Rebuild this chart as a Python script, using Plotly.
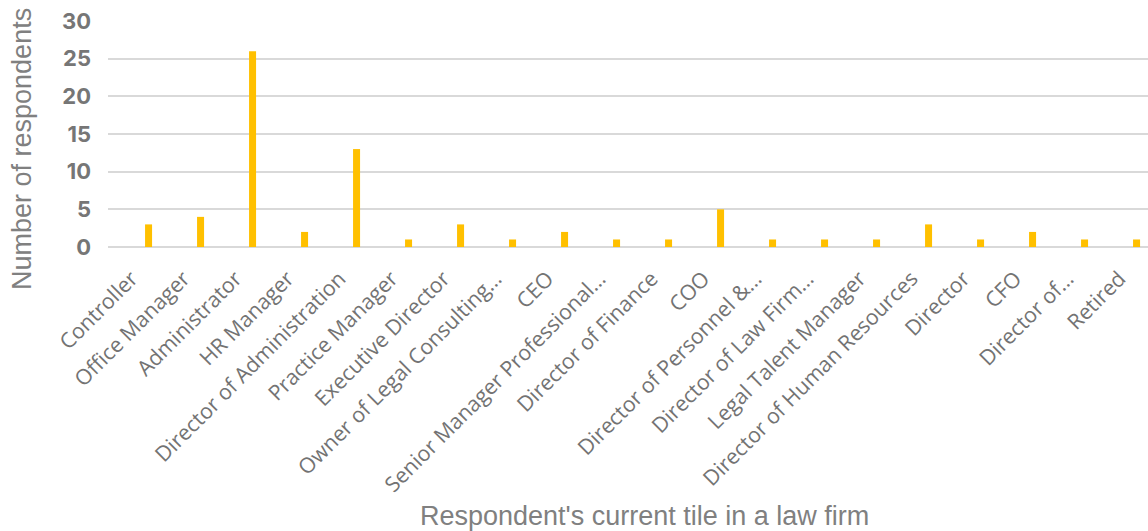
import plotly.graph_objects as go

# Survey responses: current job title of respondents working in law firms
titles = [
    "Controller", "Office Manager", "Administrator", "HR Manager",
    "Director of Administration", "Practice Manager", "Executive Director",
    "Owner of Legal Consulting…", "CEO", "Senior Manager Professional…",
    "Director of Finance", "COO", "Director of Personnel &…",
    "Director of Law Firm…", "Legal Talent Manager",
    "Director of Human Resources", "Director", "CFO", "Director of…", "Retired",
]
respondents = [3, 4, 26, 2, 13, 1, 3, 1, 2, 1, 1, 5, 1, 1, 1, 3, 1, 2, 1, 1]
y_ticks = [0, 5, 10, 15, 20, 25, 30]

W, H = 1148, 531
left, right, top, bottom = 108, 0, 21, 284

fig = go.Figure(
    go.Bar(
        x=titles,
        y=respondents,
        width=0.135,
        marker=dict(color="#FFC000", line=dict(width=0)),
        hoverinfo="x+y",
    )
)

plot_w = W - left - right
plot_h = H - top - bottom


def px_to_paper_x(px):
    return (px - left) / plot_w


def px_to_paper_y(py):
    return (H - bottom - py) / plot_h


fig.update_layout(
    width=W,
    height=H,
    margin=dict(l=left, r=right, t=top, b=bottom, pad=0),
    plot_bgcolor="white",
    paper_bgcolor="white",
    showlegend=False,
    xaxis=dict(
        type="category",
        range=[-0.78, 19.22],
        tickangle=-45,
        tickfont=dict(family="Open Sans", size=21.3, color="#737373"),
        showgrid=False,
        showline=False,
        zeroline=False,
        ticks="",
        ticklabelstandoff=14,
        ticklabelshift=-17,
    ),
    yaxis=dict(
        range=[0, 30],
        tickvals=y_ticks,
        tickfont=dict(family="Inter", size=22, color="#767676", weight="bold"),
        showgrid=True,
        gridcolor="#D9D9D9",
        gridwidth=2,
        zeroline=True,
        zerolinecolor="#D9D9D9",
        zerolinewidth=2,
        showline=False,
        ticks="",
        ticklabelstandoff=16,
    ),
    annotations=[
        dict(
            text="Number of respondents",
            xref="paper", yref="paper",
            x=px_to_paper_x(22), y=px_to_paper_y(149),
            xanchor="center", yanchor="middle",
            textangle=-90, showarrow=False,
            font=dict(family="Liberation Sans", size=27, color="#808080"),
        ),
        dict(
            text="Respondent's current tile in a law firm",
            xref="paper", yref="paper",
            x=px_to_paper_x(644), y=px_to_paper_y(516),
            xanchor="center", yanchor="middle",
            showarrow=False,
            font=dict(family="Liberation Sans", size=27, color="#808080"),
        ),
    ],
)

fig.write_html("out.html")
